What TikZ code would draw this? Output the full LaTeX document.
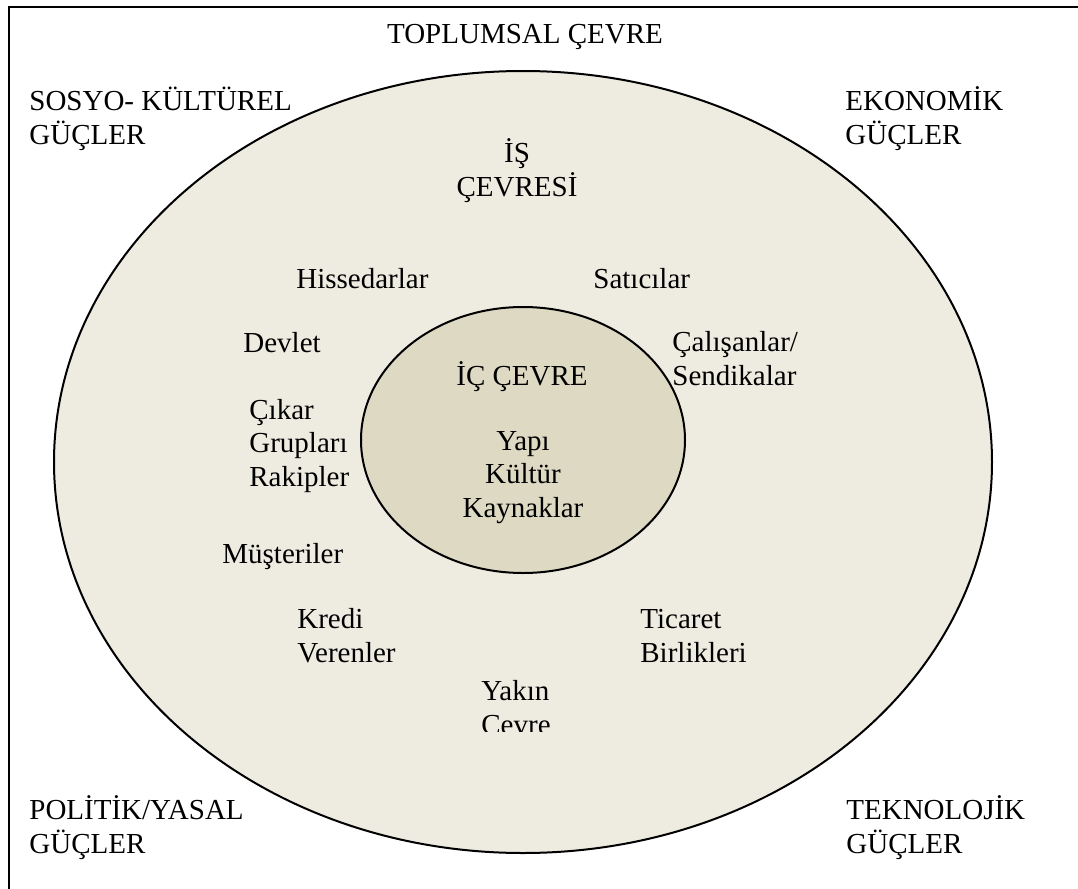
\documentclass[tikz,border=0pt]{standalone}
\usepackage{fontspec}
\setmainfont{Liberation Serif}
\definecolor{outerfill}{HTML}{EEECE1}
\definecolor{innerfill}{HTML}{DDD9C3}
\begin{document}
\begin{tikzpicture}[x=0.5pt, y=-0.5pt,
  lbl/.style={inner sep=0pt, font=\fontsize{14.5}{16.75}\selectfont},
  lft/.style={lbl, align=left, anchor=base west},
  ctr/.style={lbl, align=center, anchor=base},
  ring/.style={draw=black, line width=1pt}]
  % page area and frame (multi-line labels are placed by their last baseline)
  \clip (0,0) rectangle (1078,889);
  \fill[white] (0,0) rectangle (1078,889);
  \draw[line width=1pt] (9,6.5) rectangle (1200,1000);

  % environments
  \draw[ring, fill=outerfill] (523,462) ellipse [x radius=234.5pt, y radius=195.5pt];
  \draw[ring, fill=innerfill] (523,440) ellipse [x radius=81pt, y radius=66.5pt];

  % societal environment
  \node[ctr] (toplum) at (525,43) {TOPLUMSAL ÇEVRE};
  \node[lft] (sosyo) at (29,144) {SOSYO- KÜLTÜREL\\GÜÇLER};
  \node[lft] (ekonomi) at (845,144) {EKONOMİK\\GÜÇLER};
  \node[lft] (politik) at (29,853) {POLİTİK/YASAL\\GÜÇLER};
  \node[lft] (tekno) at (846,853) {TEKNOLOJİK\\GÜÇLER};

  % task environment
  \node[ctr] (is) at (517,196) {İŞ\\ÇEVRESİ};
  \node[lft] (hisse) at (296,288) {Hissedarlar};
  \node[lft] (satici) at (593,288) {Satıcılar};
  \node[lft] (devlet) at (243,352) {Devlet};
  \node[lft] (calisan) at (672,385) {Çalışanlar/\\Sendikalar};
  \node[lft] (cikar) at (249,486) {Çıkar\\Grupları\\Rakipler};
  \node[lft] (musteri) at (222,563) {Müşteriler};
  \node[lft] (kredi) at (297,662) {Kredi\\Verenler};
  \node[lft] (ticaret) at (640,662) {Ticaret\\Birlikleri};
  \begin{scope}
    \clip (400,600) rectangle (650,731);
    \node[lft] (yakin) at (481,734) {Yakın\\Cevre};
  \end{scope}

  % internal environment
  \node[ctr] (ic) at (522,385) {İÇ ÇEVRE};
  \node[ctr] (yapi) at (523,517) {Yapı\\Kültür\\Kaynaklar};
\end{tikzpicture}
\end{document}
